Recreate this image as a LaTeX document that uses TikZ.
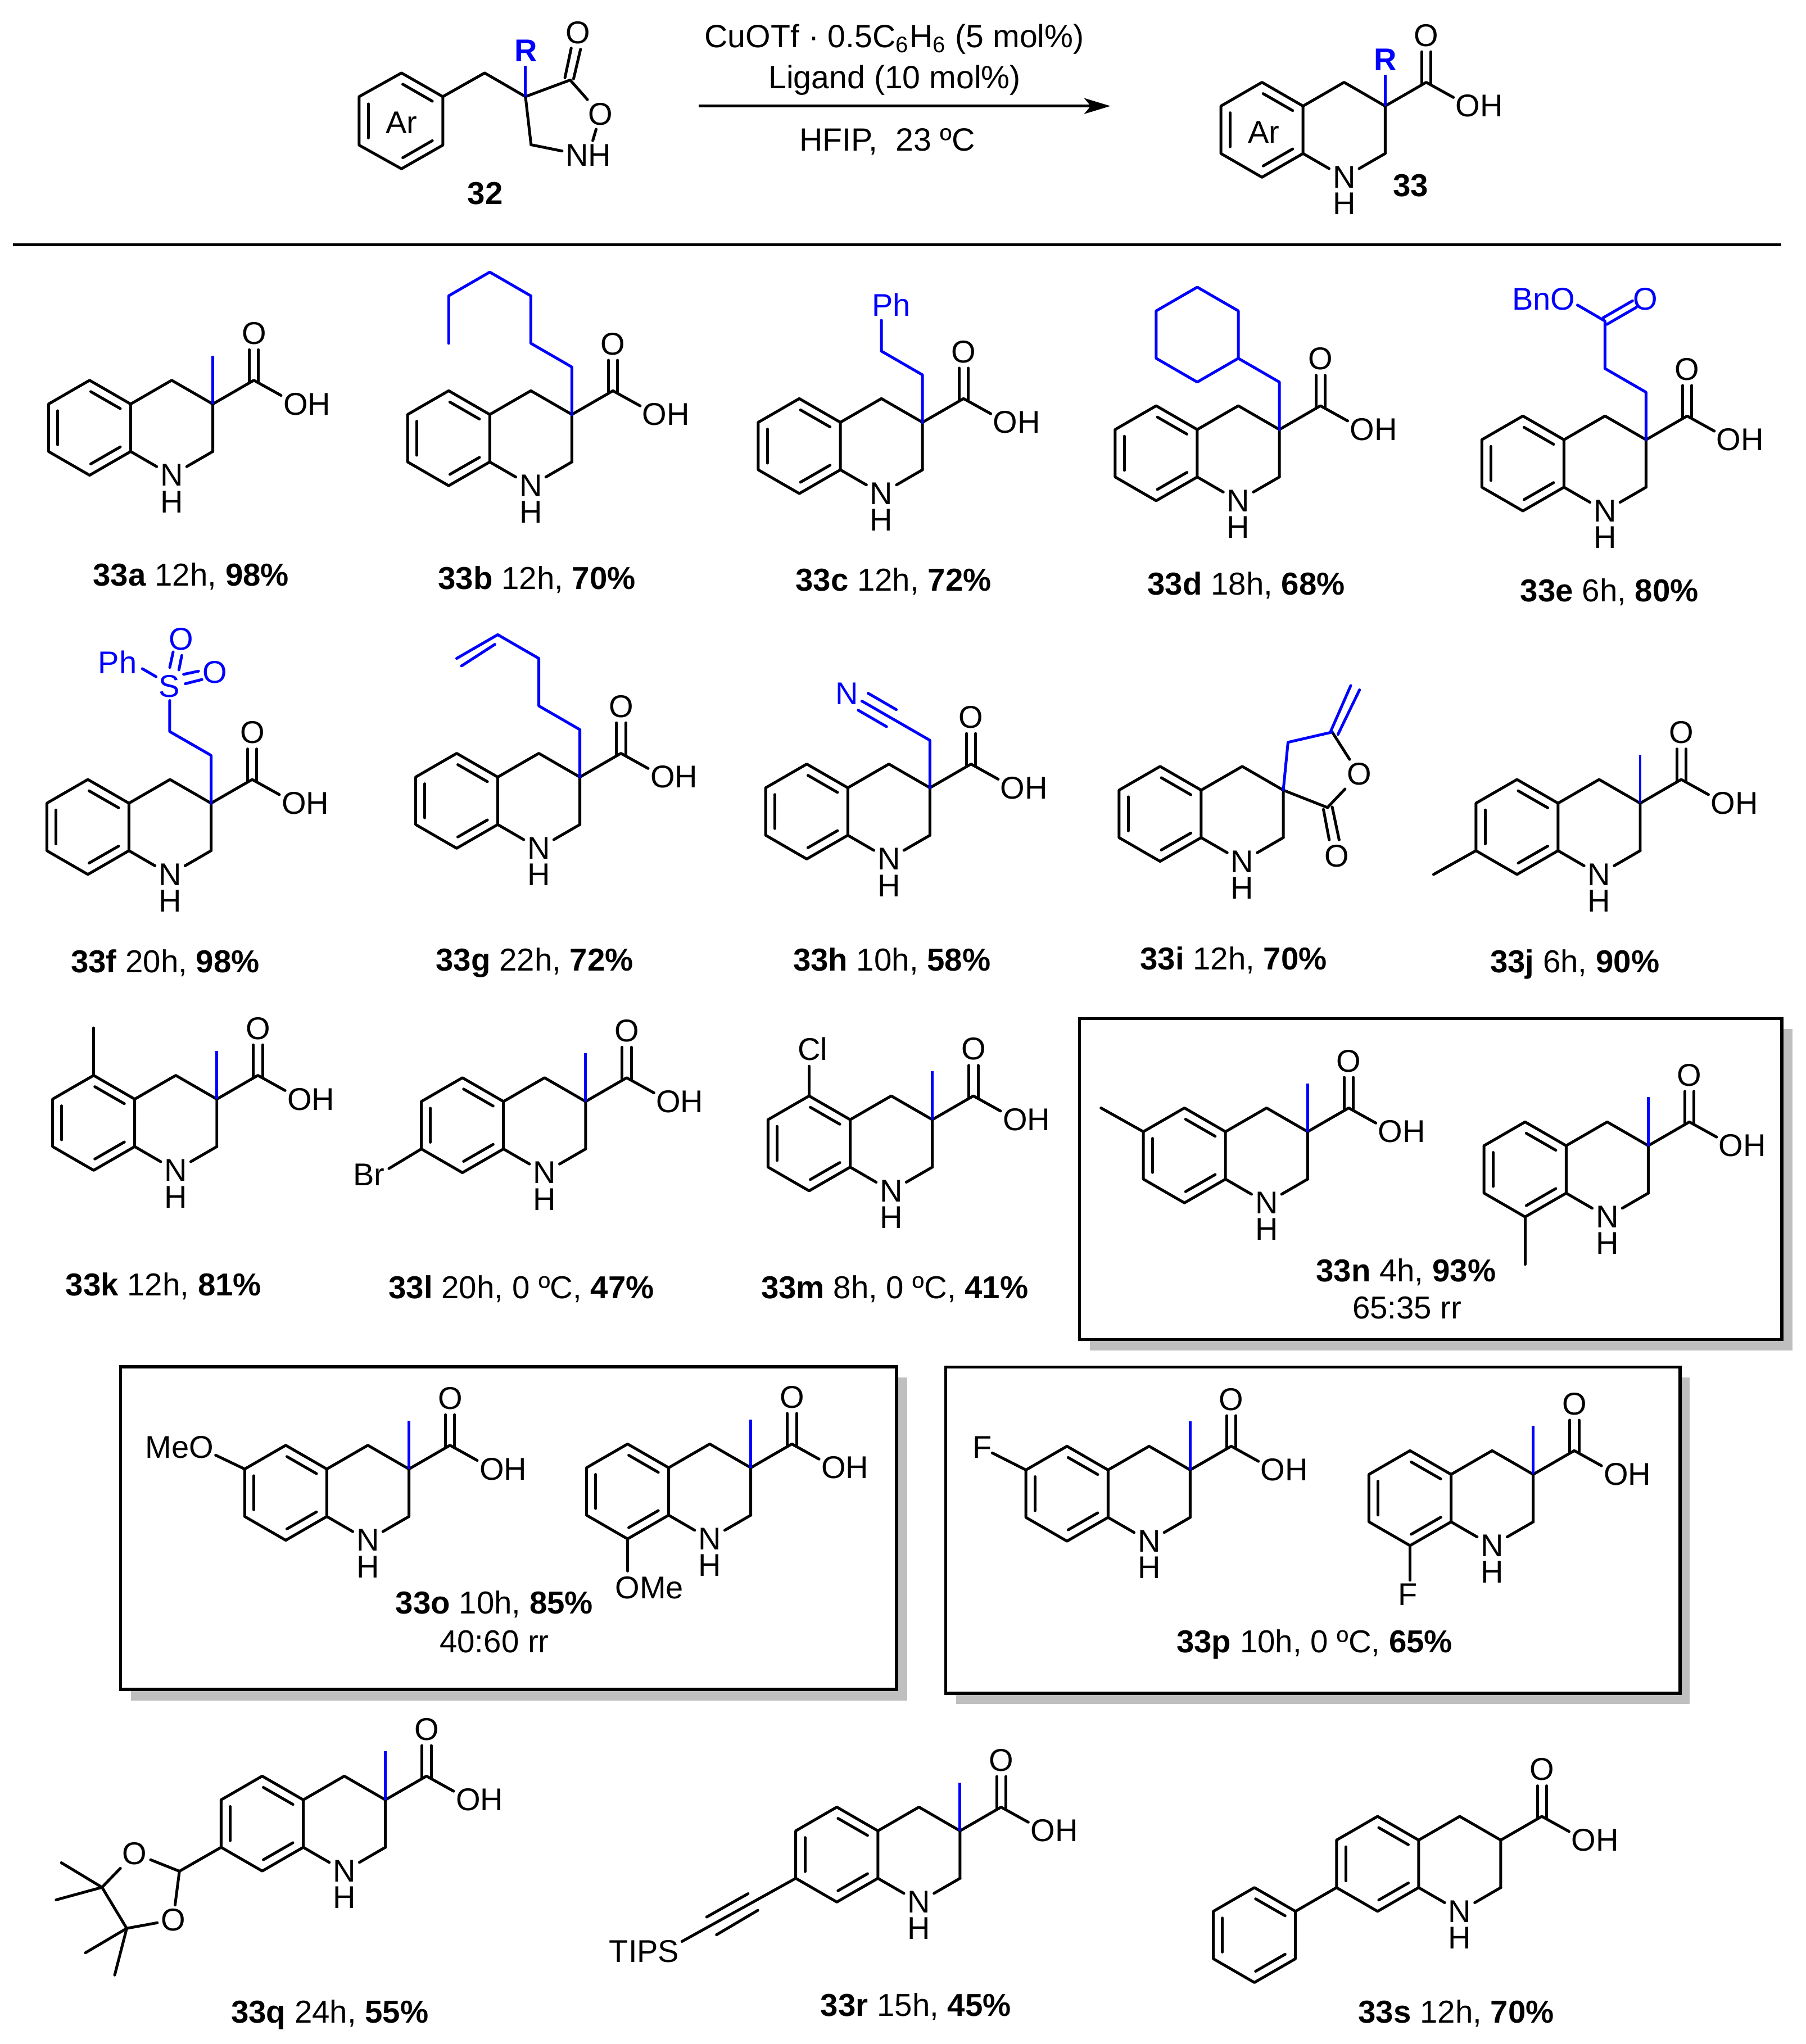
\documentclass[tikz,border=0pt]{standalone}
\usepackage{fontspec}
\setmainfont{Liberation Sans}
\usetikzlibrary{arrows.meta}
\tikzset{
 bond/.style={line width=1.22pt,black,line join=round,line cap=round},
 blubond/.style={line width=1.22pt,blue,line join=round,line cap=round},
 mebond/.style={line width=1.22pt,blue},
 atom/.style={inner sep=1.4pt,black,font=\fontsize{13.7pt}{16pt}\selectfont},
 bluatom/.style={atom,blue},
 capt/.style={inner sep=0pt,anchor=base,yshift=-4.84pt,font=\fontsize{13.8pt}{16pt}\selectfont},
 condtext/.style={inner sep=0pt,anchor=base,yshift=-4.84pt,font=\fontsize{14pt}{16pt}\selectfont},
 panel/.style={draw=black,line width=1.35pt,fill=white},
 panelshadow/.style={fill=black!25,draw=none},
 rule/.style={line width=1.22pt,black},
}
% tetrahydroquinoline-3-carboxylic acid, origin at C3
\newcommand{\thq}[1]{%
 \coordinate (#1C3) at (0,0);
 \coordinate (#1C2) at (0,36.3);
 \coordinate (#1C8a) at (-62.8,36.3);
 \coordinate (#1C4a) at (-62.8,0);
 \coordinate (#1C4) at (-31.4,-18.15);
 \coordinate (#1C5) at (-94.2,-18.15);
 \coordinate (#1C6) at (-125.6,0);
 \coordinate (#1C7) at (-125.6,36.3);
 \coordinate (#1C8) at (-94.2,54.45);
 \coordinate (#1CO) at (31.4,-18.15);
 \coordinate (#1OHb) at (52.2,-6.6);
 \node[atom] (#1N) at (-31.4,54.5) {N};
 \node[atom] (#1H) at (-31.4,74.8) {H};
 \node[atom] (#1O) at (31.5,-54) {O};
 \node[atom] (#1OH) at (72,0) {OH};
 \draw[bond] (#1C4a)--(#1C5)--(#1C6)--(#1C7)--(#1C8)--(#1C8a)--cycle;
 \draw[bond] (-118.6,5.15)--(-118.6,31.15);
 \draw[bond] (-93.3,-9.5)--(-70.7,3.5);
 \draw[bond] (-93.3,45.8)--(-70.7,32.8);
 \draw[bond] (#1C4a)--(#1C4)--(#1C3)--(#1C2);
 \draw[bond] (#1C2)--(#1N);
 \draw[bond] (#1C8a)--(#1N);
 \draw[bond] (#1C3)--(#1CO)--(#1OHb);
 \draw[bond] (28,-16.5)--(28,-41.5);
 \draw[bond] (35,-16.5)--(35,-41.5);
}
\newcommand{\meth}[1]{%
 \coordinate (#1Me) at (0,-37);
 \draw[mebond] (#1C3)--(#1Me);
}
\begin{document}
\begin{tikzpicture}[x=0.02cm,y=-0.02cm]
\useasboundingbox (0,0) rectangle (1381,1563.25);
\fill[white] (0,0) rectangle (1381,1563.25);

% ---------- panels
\fill[panelshadow] (833.6,787.1) rectangle (1370.5,1032.8);
\draw[panel] (825.4,779) rectangle (1362.5,1024.5);
\fill[panelshadow] (100,1053.4) rectangle (693.9,1300.5);
\draw[panel] (92.1,1045.2) rectangle (685.5,1292);
\fill[panelshadow] (731,1053.6) rectangle (1292.2,1303.2);
\draw[panel] (723.1,1045.5) rectangle (1284.7,1295.1);

% ---------- reaction: substrate 32
\coordinate (sa) at (307,55.8);
\coordinate (sb) at (338.6,73.9);
\coordinate (sc) at (338.6,111);
\coordinate (sd) at (307,129.1);
\coordinate (se) at (274.6,111);
\coordinate (sf) at (274.6,73.9);
\coordinate (sCH) at (370.6,55.8);
\coordinate (sQ) at (401.8,73.9);
\coordinate (sCO) at (436,61.2);
\coordinate (sCN) at (406.1,110.7);
\coordinate (sRb) at (401.8,50.4);
\node[atom] (sO) at (442.1,25) {O};
\node[atom] (sOr) at (459.2,87.5) {O};
\node[atom] (sNH) at (450,118.6) {NH};
\node[atom] (sAr) at (307,94) {Ar};
\node[bluatom,font=\fontsize{13.7pt}{16pt}\selectfont\bfseries] (sR) at (402.2,38.6) {R};
\node[capt] (n32) at (371,147.8) {\textbf{32}};
\draw[bond] (sa)--(sb)--(sc)--(sd)--(se)--(sf)--cycle;
\draw[bond] (308,64.4)--(330.6,77.4);
\draw[bond] (308,120.6)--(330.6,107.6);
\draw[bond] (281.6,79.5)--(281.6,105.5);
\draw[bond] (sb)--(sCH)--(sQ)--(sCO);
\draw[bond] (sQ)--(sCN);
\draw[bond] (sCO)--(sOr);
\draw[bond] (sOr)--(sNH);
\draw[bond] (sCN)--(429.8,115.5);
\draw[bond] (432,59.4)--(436.8,36.8);
\draw[bond] (438.6,60.3)--(443.9,37.7);
\draw[mebond] (sQ)--(sRb);

% ---------- arrow and conditions
\coordinate (arrL) at (534.2,81.1);
\coordinate (arrR) at (849.1,81.1);
\draw[rule,-{Stealth[length=4mm,width=2.4mm,inset=1mm]}] (arrL)--(arrR);
\node[condtext] (cond1) at (683.9,27.8) {CuOTf · 0.5C\textsubscript{6}H\textsubscript{6} (5 mol\%)};
\node[condtext] (cond2) at (684.1,59.4) {Ligand (10 mol\%)};
\node[condtext] (cond3) at (678.6,107) {HFIP,~~23 ºC};

% ---------- product 33
\begin{scope}[shift={(1059.2,81.1)}]
 \thq{p}
 \coordinate (pRb) at (0,-23.8);
 \draw[mebond] (pC3)--(pRb);
 \node[bluatom,font=\fontsize{13.7pt}{16pt}\selectfont\bfseries] (pR) at (0,-35.3) {R};
 \node[atom] (pAr) at (-92.9,20) {Ar};
\end{scope}
\node[capt] (n33) at (1078.6,141.8) {\textbf{33}};

\coordinate (ruleL) at (10,187);
\coordinate (ruleR) at (1362,187);
\draw[rule] (ruleL)--(ruleR);

% ---------- 33a
\begin{scope}[shift={(162.7,309)}]
 \thq{a}\meth{a}
\end{scope}
\node[capt] (la) at (146,439.5) {\textbf{33a} 12h, \textbf{98\%}};
% ---------- 33b
\begin{scope}[shift={(437.3,317)}]
 \thq{b}
 \draw[blubond] (bC3)--(0,-36.3)--(-31.4,-54.45)--(-31.4,-90.75)--(-62.8,-108.9)--(-94.2,-90.75)--(-94.2,-54.45);
\end{scope}
\node[capt] (lb) at (410.5,442) {\textbf{33b} 12h, \textbf{70\%}};
% ---------- 33c
\begin{scope}[shift={(705.4,323)}]
 \thq{c}
 \node[bluatom] (cPh) at (-24,-90) {Ph};
 \draw[blubond] (cC3)--(0,-36.3)--(-31.4,-54.45)--(-31.4,-78);
\end{scope}
\node[capt] (lc) at (683.2,443.4) {\textbf{33c} 12h, \textbf{72\%}};
% ---------- 33d
\begin{scope}[shift={(978.3,328.5)}]
 \thq{d}
 \draw[blubond] (dC3)--(0,-36.3)--(-31.4,-54.45);
 \draw[blubond] (-31.4,-54.45)--(-31.4,-90.75)--(-62.8,-108.9)--(-94.2,-90.75)--(-94.2,-54.45)--(-62.8,-36.3)--cycle;
\end{scope}
\node[capt] (ld) at (953,446.5) {\textbf{33d} 18h, \textbf{68\%}};
% ---------- 33e
\begin{scope}[shift={(1258.7,336.3)}]
 \thq{e}
 \node[bluatom] (eBnO) at (-78.3,-107.7) {BnO};
 \node[bluatom] (eOd) at (-0.4,-107.7) {O};
 \draw[blubond] (eC3)--(0,-36.3)--(-31.4,-54.45)--(-31.4,-90.75)--(-52.4,-103);
 \draw[blubond] (-32.85,-93.25)--(-10.35,-106.25);
 \draw[blubond] (-29.95,-88.25)--(-7.45,-101.25);
\end{scope}
\node[capt] (le) at (1230.7,451.6) {\textbf{33e} 6h, \textbf{80\%}};

% ---------- 33f
\begin{scope}[shift={(161.4,614.3)}]
 \thq{f}
 \node[bluatom] (fS) at (-32,-89.6) {S};
 \node[bluatom] (fPh) at (-71.5,-108) {Ph};
 \node[bluatom] (fOa) at (-22.8,-125.4) {O};
 \node[bluatom] (fOb) at (3,-100) {O};
 \draw[blubond] (fC3)--(0,-36.6)--(-31.6,-54.8)--(-31.6,-78.5);
 \draw[blubond] (-52.6,-102.9)--(-42.1,-96.8);
 \draw[blubond] (-31.6,-103.9)--(-29,-115.7);
 \draw[blubond] (-24.6,-102)--(-22.4,-113);
 \draw[blubond] (-21,-98.6)--(-9.6,-101);
 \draw[blubond] (-19.7,-91.4)--(-7,-94.6);
\end{scope}
\node[capt] (lf) at (126.3,735.4) {\textbf{33f} 20h, \textbf{98\%}};
% ---------- 33g
\begin{scope}[shift={(443.4,594.3)}]
 \thq{g}
 \draw[blubond] (gC3)--(0,-36.3)--(-31.4,-54.45)--(-31.4,-90.75)--(-62.8,-108.9)--(-94.2,-90.75);
 \draw[blubond] (-65,-101.5)--(-90.5,-85);
\end{scope}
\node[capt] (lg) at (408.8,734) {\textbf{33g} 22h, \textbf{72\%}};
% ---------- 33h
\begin{scope}[shift={(711.1,602.5)}]
 \thq{h}
 \node[bluatom] (hNn) at (-63.6,-72) {N};
 \draw[blubond] (hC3)--(0,-36.3)--(-52,-66.3);
 \draw[blubond] (-47.3,-72.3)--(-25.7,-59.8);
 \draw[blubond] (-54.8,-59.3)--(-33.2,-46.8);
\end{scope}
\node[capt] (lh) at (682,734) {\textbf{33h} 10h, \textbf{58\%}};
% ---------- 33i: spiro lactone, no acid group
\begin{scope}[shift={(981.3,604.3)}]
 \coordinate (iC3) at (0,0);
 \coordinate (iC2) at (0,36.3);
 \coordinate (iC8a) at (-62.8,36.3);
 \coordinate (iC4a) at (-62.8,0);
 \coordinate (iC4) at (-31.4,-18.15);
 \coordinate (iC5) at (-94.2,-18.15);
 \coordinate (iC6) at (-125.6,0);
 \coordinate (iC7) at (-125.6,36.3);
 \coordinate (iC8) at (-94.2,54.45);
 \coordinate (iCa) at (3.6,-36.6);
 \coordinate (iCb) at (37.4,-44.4);
 \coordinate (iCO) at (33.8,13.3);
 \node[atom] (iN) at (-31.4,54.5) {N};
 \node[atom] (iH) at (-31.4,74.8) {H};
 \node[atom] (iOr) at (57.9,-12.2) {O};
 \node[atom] (iOd) at (40.9,50.5) {O};
 \draw[bond] (iC4a)--(iC5)--(iC6)--(iC7)--(iC8)--(iC8a)--cycle;
 \draw[bond] (-118.6,5.15)--(-118.6,31.15);
 \draw[bond] (-93.3,-9.5)--(-70.7,3.5);
 \draw[bond] (-93.3,45.8)--(-70.7,32.8);
 \draw[bond] (iC4a)--(iC4)--(iC3)--(iC2);
 \draw[bond] (iC2)--(iN);
 \draw[bond] (iC8a)--(iN);
 \draw[bond] (iC3)--(iCO);
 \draw[bond] (iCO)--(iOr);
 \draw[bond] (iCb)--(iOr);
 \draw[bond] (30.7,14.7)--(35.1,38);
 \draw[bond] (37.4,12.9)--(42.7,38);
 \draw[blubond] (iC3)--(iCa)--(iCb);
 \draw[blubond] (36,-44.4)--(51.6,-80);
 \draw[blubond] (41.8,-42.6)--(58.3,-76.7);
\end{scope}
\node[capt] (li) at (943.3,733) {\textbf{33i} 12h, \textbf{70\%}};
% ---------- 33j
\begin{scope}[shift={(1254.2,614.3)}]
 \thq{j}\meth{j}
 \coordinate (jMeb) at (-158,54.45);
 \draw[bond] (jC7)--(jMeb);
\end{scope}
\node[capt] (lj) at (1204.2,735.4) {\textbf{33j} 6h, \textbf{90\%}};

% ---------- 33k
\begin{scope}[shift={(165.8,840.6)}]
 \thq{k}\meth{k}
 \coordinate (kMeb) at (-94.2,-54.45);
 \draw[bond] (kC5)--(kMeb);
\end{scope}
\node[capt] (lk) at (125,982.4) {\textbf{33k} 12h, \textbf{81\%}};
% ---------- 33l
\begin{scope}[shift={(447.8,842.4)}]
 \thq{l}\meth{l}
 \node[atom] (lBr) at (-165.8,55.9) {Br};
 \draw[bond] (lC7)--(-150.4,51.3);
\end{scope}
\node[capt] (ll) at (398.7,984.6) {\textbf{33l} 20h, 0 ºC, \textbf{47\%}};
% ---------- 33m
\begin{scope}[shift={(712.9,856.3)}]
 \thq{m}\meth{m}
 \node[atom] (mCl) at (-91.5,-54.1) {Cl};
 \draw[bond] (mC5)--(-94.2,-40.9);
\end{scope}
\node[capt] (lm) at (684.2,984.6) {\textbf{33m} 8h, 0 ºC, \textbf{41\%}};
% ---------- 33n
\begin{scope}[shift={(999.9,865.5)}]
 \thq{na}\meth{na}
 \coordinate (naMeb) at (-158,-18.15);
 \draw[bond] (naC6)--(naMeb);
\end{scope}
\begin{scope}[shift={(1260.4,876.2)}]
 \thq{nb}\meth{nb}
 \coordinate (nbMeb) at (-94.2,90.75);
 \draw[bond] (nbC8)--(nbMeb);
\end{scope}
\node[capt] (ln) at (1075.1,971.7) {\textbf{33n} 4h, \textbf{93\%}};
\node[capt] (lnr) at (1076,1000.2) {65:35 rr};

% ---------- 33o
\begin{scope}[shift={(312.7,1123.5)}]
 \thq{oa}\meth{oa}
 \node[atom] (oaMeO) at (-175.4,-16.7) {MeO};
 \draw[bond] (oaC6)--(-147.8,-10.6);
\end{scope}
\begin{scope}[shift={(574.1,1122.5)}]
 \thq{ob}\meth{ob}
 \node[atom] (obOMe) at (-77.6,91.8) {OMe};
 \draw[bond] (obC8)--(-94.2,79);
\end{scope}
\node[capt] (lo) at (378,1225.9) {\textbf{33o} 10h, \textbf{85\%}};
\node[capt] (lor) at (378,1255.4) {40:60 rr};
% ---------- 33p
\begin{scope}[shift={(910.1,1124.2)}]
 \thq{pa}\meth{pa}
 \node[atom] (paF) at (-158.9,-17.4) {F};
 \draw[bond] (paC6)--(-151.3,-13);
\end{scope}
\begin{scope}[shift={(1172.4,1127.6)}]
 \thq{pb}\meth{pb}
 \node[atom] (pbF) at (-96.1,91.8) {F};
 \draw[bond] (pbC8)--(-94.2,80.9);
\end{scope}
\node[capt] (lp) at (1005.2,1255.4) {\textbf{33p} 10h, 0 ºC, \textbf{65\%}};

% ---------- 33q
\begin{scope}[shift={(294.7,1376.5)}]
 \thq{q}\meth{q}
 \coordinate (qCH) at (-157.5,54.6);
 \coordinate (qCa) at (-216.7,66.9);
 \coordinate (qCb) at (-197.8,98.3);
 \node[atom] (qOa) at (-191.7,41) {O};
 \node[atom] (qOb) at (-162.3,91.8) {O};
 \draw[bond] (qC7)--(qCH);
 \draw[bond] (qCH)--(qOa);
 \draw[bond] (qCH)--(qOb);
 \draw[bond] (qOa)--(qCa);
 \draw[bond] (qCa)--(qCb);
 \draw[bond] (qCb)--(qOb);
 \draw[bond] (qCa)--(-247.8,48.1);
 \draw[bond] (qCa)--(-251.8,76.5);
 \draw[bond] (qCb)--(-229.4,117);
 \draw[bond] (qCb)--(-207,134);
\end{scope}
\node[capt] (lq) at (252.2,1538.6) {\textbf{33q} 24h, \textbf{55\%}};
% ---------- 33r
\begin{scope}[shift={(734.1,1400.2)}]
 \thq{r}\meth{r}
 \node[atom] (rTIPS) at (-241.5,92.1) {TIPS};
 \draw[bond] (rC7)--(-212.6,84.6);
 \draw[bond] (-193.7,65.9)--(-162.1,48.1);
 \draw[bond] (-186.2,79.5)--(-154.6,60.8);
\end{scope}
\node[capt] (lr) at (700.3,1533.5) {\textbf{33r} 15h, \textbf{45\%}};
% ---------- 33s
\begin{scope}[shift={(1147.6,1407.3)}]
 \thq{s}
 \coordinate (sPa) at (-157,54.45);
 \coordinate (sPb) at (-188.4,36.3);
 \coordinate (sPc) at (-219.8,54.45);
 \coordinate (sPd) at (-219.8,90.75);
 \coordinate (sPe) at (-188.4,108.9);
 \coordinate (sPf) at (-157,90.75);
 \draw[bond] (sC7)--(sPa);
 \draw[bond] (sPa)--(sPb)--(sPc)--(sPd)--(sPe)--(sPf)--cycle;
 \draw[bond] (-212.8,59.6)--(-212.8,85.6);
 \draw[bond] (-187.5,44.9)--(-164.9,57.9);
 \draw[bond] (-187.5,100.3)--(-164.9,87.3);
\end{scope}
\node[capt] (ls) at (1113.5,1538.6) {\textbf{33s} 12h, \textbf{70\%}};
\end{tikzpicture}
\end{document}
